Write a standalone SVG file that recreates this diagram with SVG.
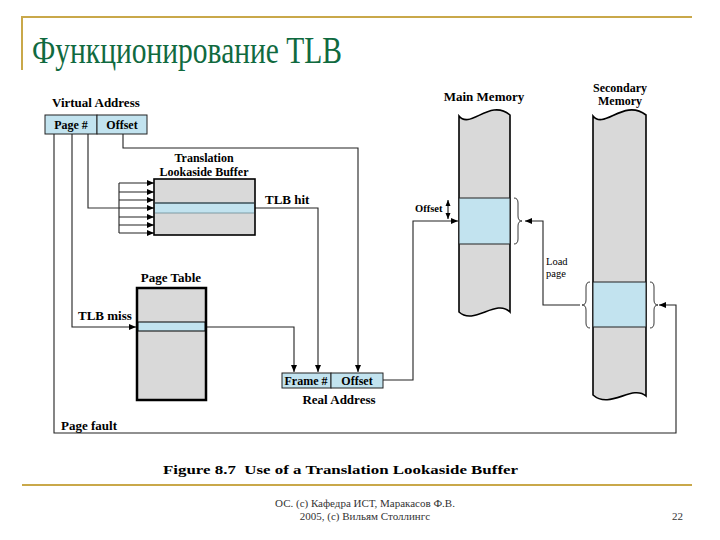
<svg xmlns="http://www.w3.org/2000/svg" width="720" height="540" viewBox="0 0 720 540">
<defs>
<marker id="ah" markerWidth="8" markerHeight="8" refX="7" refY="4" orient="auto" markerUnits="userSpaceOnUse">
<path d="M0,1 L7,4 L0,7 Z" fill="#000"/>
</marker>
<marker id="ahs" markerWidth="8" markerHeight="8" refX="6" refY="3" orient="auto" markerUnits="userSpaceOnUse">
<path d="M0,0.5 L6,3 L0,5.5 Z" fill="#000"/>
</marker>
<marker id="ahst" markerWidth="8" markerHeight="8" refX="0" refY="3" orient="auto" markerUnits="userSpaceOnUse">
<path d="M6,0.5 L0,3 L6,5.5 Z" fill="#000"/>
</marker>
</defs>
<style>
.lbl{font-family:"Liberation Serif","Times New Roman",serif;font-weight:bold;font-size:13px;fill:#000}
.l2{font-family:"Liberation Serif","Times New Roman",serif;font-weight:bold;font-size:12px;fill:#000}
.bx{font-family:"Liberation Serif","Times New Roman",serif;font-weight:bold;font-size:12px;fill:#000}
.sm{font-family:"Liberation Serif","Times New Roman",serif;font-size:10.5px;fill:#000}
.ln{fill:none;stroke:#333;stroke-width:1.2}
.ar{fill:none;stroke:#222;stroke-width:1.1;marker-end:url(#ah)}
.blue{fill:#c2e3ef;stroke:#222;stroke-width:1}
.gray{fill:#d9d9d9;stroke:#000;stroke-width:1.6}
.gold{stroke:#c9a84a;stroke-width:2;fill:none}
.brace{fill:none;stroke:#222;stroke-width:0.9}
</style>
<rect width="720" height="540" fill="#fff"/>

<g id="title">
<path class="gold" d="M22,70 V17 H692"/>
<text x="32" y="63" font-family="Liberation Serif, serif" font-size="38" fill="#106a3f" textLength="310" lengthAdjust="spacingAndGlyphs">Функционирование TLB</text>
</g>

<g id="connectors">
<path class="ar" d="M123,134 V148 H358 V372"/>
<path class="ln" d="M88,134 V208 H119"/>
<path class="ln" d="M119,183 V233"/>
<path class="ar" d="M119,183 H154"/>
<path class="ar" d="M119,192 H154"/>
<path class="ar" d="M119,200 H154"/>
<path class="ar" d="M119,208 H154"/>
<path class="ar" d="M119,217 H154"/>
<path class="ar" d="M119,225 H154"/>
<path class="ar" d="M119,233 H154"/>
<path class="ar" d="M255,208 H318 V372"/>
<path class="ar" d="M72,134 V327 H136"/>
<path class="ar" d="M206,327 H294 V372"/>
<path class="ar" d="M383,380 H413 V221 H458"/>
<path class="ar" d="M54,134 V433 H676 V305 H659"/>
<path class="ar" d="M580,305 H543 V221 H525"/>
<path d="M448,200 V219" fill="none" stroke="#000" stroke-width="1" marker-start="url(#ahst)" marker-end="url(#ahs)"/>
</g>

<g id="virtual-address">
<text class="lbl" x="52" y="107">Virtual Address</text>
<rect class="blue" x="45" y="115" width="52" height="19"/>
<rect class="blue" x="97" y="115" width="50" height="19"/>
<text class="bx" x="71" y="129" text-anchor="middle">Page #</text>
<text class="bx" x="122" y="129" text-anchor="middle">Offset</text>
</g>

<g id="tlb">
<text class="l2" x="204" y="162" text-anchor="middle">Translation</text>
<text class="l2" x="204" y="176" text-anchor="middle">Lookaside Buffer</text>
<rect class="gray" x="154" y="179" width="101" height="56"/>
<rect x="155" y="203" width="99" height="10" fill="#c2e3ef"/>
<line x1="155" y1="203" x2="254" y2="203" stroke="#3a4f57" stroke-width="1.6"/>
<line x1="155" y1="213" x2="254" y2="213" stroke="#6a8a94" stroke-width="0.8"/>
<text class="lbl" x="265" y="204">TLB hit</text>
</g>

<g id="page-table">
<text class="lbl" x="171" y="282" text-anchor="middle">Page Table</text>
<rect x="137" y="288" width="69" height="112" fill="#d9d9d9" stroke="#000" stroke-width="2.5"/>
<rect x="138" y="322" width="67" height="9" fill="#c2e3ef" stroke="#000" stroke-width="1"/>
<text class="lbl" x="78" y="320">TLB miss</text>
</g>

<g id="real-address">
<rect class="blue" x="282" y="373" width="49" height="15"/>
<rect class="blue" x="331" y="373" width="52" height="15"/>
<text class="bx" x="306" y="385" text-anchor="middle">Frame #</text>
<text class="bx" x="357" y="385" text-anchor="middle">Offset</text>
<text class="lbl" x="339" y="404" text-anchor="middle">Real Address</text>
</g>

<g id="main-memory">
<text class="lbl" x="484" y="101" text-anchor="middle">Main Memory</text>
<path class="gray" d="M459,116 C470,130 490,98 510,115 V312 C496,298 474,326 459,312 Z"/>
<rect class="blue" x="459" y="198" width="51" height="46" stroke="#000" stroke-width="1.2"/>
<path class="brace" d="M514,198 q4,0 4,5 v13 q0,5 4,5 q-4,0 -4,5 v13 q0,5 -4,5"/>
<text class="sm" x="415" y="212" font-weight="bold">Offset</text>
</g>

<g id="secondary-memory">
<text class="l2" x="620" y="92" text-anchor="middle">Secondary</text>
<text class="l2" x="620" y="105" text-anchor="middle">Memory</text>
<path class="gray" d="M593,116 C604,130 624,98 646,115 V396 C632,384 610,410 593,395 Z"/>
<rect class="blue" x="593" y="282" width="53" height="45" stroke="#000" stroke-width="1.2"/>
<path class="brace" d="M590,282 q-4,0 -4,5 v13 q0,5 -4,5 q4,0 4,5 v13 q0,5 4,5"/>
<path class="brace" d="M650,282 q4,0 4,5 v13 q0,5 4,5 q-4,0 -4,5 v13 q0,5 -4,5"/>
<text class="sm" x="546" y="265">Load</text>
<text class="sm" x="546" y="277">page</text>
</g>

<g id="page-fault">
<text class="lbl" x="61" y="430">Page fault</text>
</g>

<g id="caption">
<text x="163" y="474" font-family="Liberation Serif, serif" font-weight="bold" font-size="13.5" fill="#000" textLength="355" lengthAdjust="spacingAndGlyphs" xml:space="preserve">Figure 8.7  Use of a Translation Lookaside Buffer</text>
<line class="gold" x1="22" y1="485" x2="692" y2="485"/>
<text x="365" y="507" text-anchor="middle" font-family="Liberation Serif, serif" font-size="11" fill="#333">ОС. (с) Кафедра ИСТ, Маракасов Ф.В.</text>
<text x="365" y="520" text-anchor="middle" font-family="Liberation Serif, serif" font-size="11" fill="#333">2005, (с) Вильям Столлингс</text>
<text x="672" y="520" font-family="Liberation Serif, serif" font-size="11" fill="#333">22</text>
</g>
</svg>
